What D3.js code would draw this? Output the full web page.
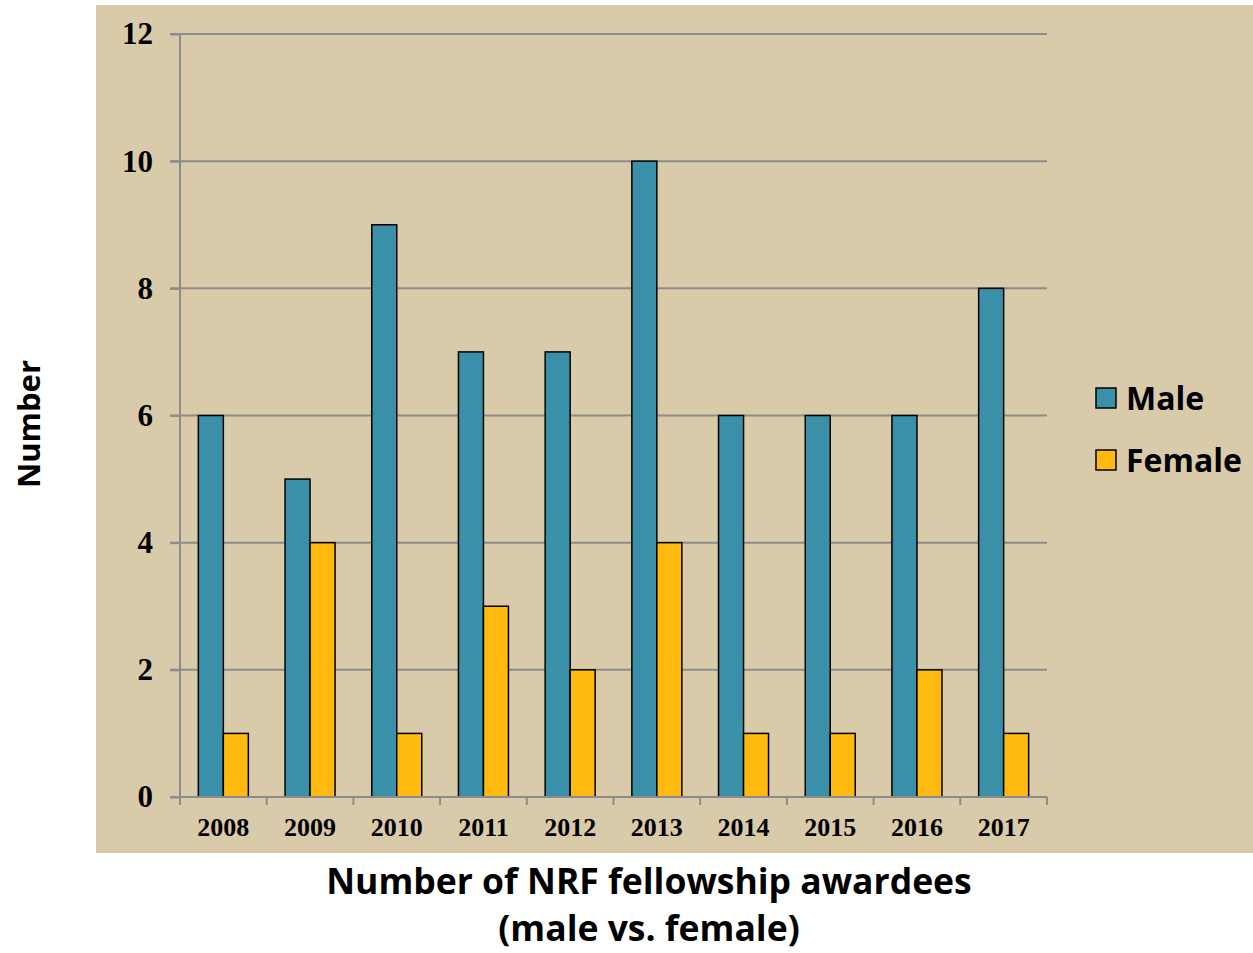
<!DOCTYPE html>
<html>
<head>
<meta charset="utf-8">
<script src="https://cdn.jsdelivr.net/npm/d3@7"></script>
<style>
  body { margin: 0; background: #fff; }
  svg { display: block; }
</style>
</head>
<body>
<svg id="chart" width="1253" height="953"></svg>
<script>
const years = ['2008', '2009', '2010', '2011', '2012', '2013', '2014', '2015', '2016', '2017'];
const male = [6, 5, 9, 7, 7, 10, 6, 6, 6, 8];
const female = [1, 4, 1, 3, 2, 4, 1, 1, 2, 1];
const seriesNames = ['Male', 'Female'];
const yTicks = [0, 2, 4, 6, 8, 10, 12];

const colors = { Male: '#3990A8', Female: '#FFB90F' };
const sansBold = "'Open Sans', 'Noto Sans', sans-serif";
const serif = "'Liberation Serif', 'DejaVu Serif', serif";

const svg = d3.select('#chart');

// tan panel
svg.append('rect')
  .attr('x', 96).attr('y', 5)
  .attr('width', 1157).attr('height', 848)
  .attr('fill', '#D9CAA9');

const margin = { left: 180, right: 1047, top: 34, bottom: 797 };

const x = d3.scaleBand()
  .domain(years)
  .range([margin.left, margin.right])
  .paddingInner(0).paddingOuter(0);

const y = d3.scaleLinear()
  .domain([0, 12])
  .range([margin.bottom, margin.top]);

const sub = d3.scaleBand()
  .domain(seriesNames)
  .range([0, 50]);

const data = years.map((yr, i) => ({ year: yr, Male: male[i], Female: female[i] }));

// gridlines
svg.append('g')
  .selectAll('line')
  .data(yTicks.filter(d => d > 0))
  .enter().append('line')
  .attr('x1', margin.left - 10)
  .attr('x2', margin.right)
  .attr('y1', d => y(d))
  .attr('y2', d => y(d))
  .attr('stroke', '#8C8C8C')
  .attr('stroke-width', 2);

// bars
const groups = svg.append('g')
  .selectAll('g')
  .data(data)
  .enter().append('g')
  .attr('transform', d => 'translate(' + (x(d.year) + x.bandwidth() / 2 - 25) + ',0)');

groups.selectAll('rect')
  .data(d => seriesNames.map(k => ({ key: k, value: d[k] })))
  .enter().append('rect')
  .attr('x', d => sub(d.key))
  .attr('width', sub.bandwidth())
  .attr('y', d => y(d.value))
  .attr('height', d => y(0) - y(d.value))
  .attr('fill', d => colors[d.key])
  .attr('stroke', '#000')
  .attr('stroke-width', 1.5);

// y axis
const yAxis = svg.append('g')
  .attr('transform', 'translate(' + margin.left + ',0)')
  .call(d3.axisLeft(y).tickValues(yTicks).tickSize(10).tickPadding(17));
yAxis.select('.domain').attr('stroke', '#8C8C8C').attr('stroke-width', 2)
  .attr('d', 'M0,' + margin.top + 'V' + margin.bottom);
yAxis.selectAll('.tick line').attr('stroke', '#8C8C8C').attr('stroke-width', 2);
yAxis.selectAll('.tick text')
  .attr('font-family', serif).attr('font-weight', 'bold')
  .attr('font-size', 31).attr('fill', '#000');

// x axis
const xAxis = svg.append('g')
  .attr('transform', 'translate(0,' + margin.bottom + ')')
  .call(d3.axisBottom(x).tickSize(0).tickPadding(21));
xAxis.select('.domain').attr('stroke', '#8C8C8C').attr('stroke-width', 2)
  .attr('d', 'M' + (margin.left - 10) + ',0H' + margin.right);
xAxis.selectAll('.tick text')
  .attr('font-family', serif).attr('font-weight', 'bold')
  .attr('font-size', 26).attr('fill', '#000');
// category boundary ticks
xAxis.append('g')
  .selectAll('line')
  .data(years.concat(['end']))
  .enter().append('line')
  .attr('x1', (d, i) => margin.left + i * x.bandwidth())
  .attr('x2', (d, i) => margin.left + i * x.bandwidth())
  .attr('y1', 0).attr('y2', 8)
  .attr('stroke', '#8C8C8C').attr('stroke-width', 2);

// legend
const legend = svg.append('g')
  .selectAll('g')
  .data(seriesNames)
  .enter().append('g')
  .attr('transform', (d, i) => 'translate(1096,' + (388 + i * 62) + ')');
legend.append('rect')
  .attr('width', 20).attr('height', 20)
  .attr('fill', d => colors[d])
  .attr('stroke', '#000').attr('stroke-width', 1.5);
legend.append('text')
  .attr('x', 30).attr('y', 22)
  .attr('font-family', sansBold).attr('font-weight', 'bold')
  .attr('font-size', 32).attr('fill', '#000')
  .text(d => d);

// y title
svg.append('text')
  .attr('transform', 'translate(40,424) rotate(-90)')
  .attr('text-anchor', 'middle')
  .attr('font-family', sansBold).attr('font-weight', 'bold')
  .attr('font-size', 31).attr('fill', '#000')
  .text('Number');

// x title
svg.append('text')
  .attr('x', 649).attr('y', 894)
  .attr('text-anchor', 'middle')
  .attr('font-family', sansBold).attr('font-weight', 'bold')
  .attr('font-size', 35.5).attr('fill', '#000')
  .text('Number of NRF fellowship awardees');
svg.append('text')
  .attr('x', 649).attr('y', 941)
  .attr('text-anchor', 'middle')
  .attr('font-family', sansBold).attr('font-weight', 'bold')
  .attr('font-size', 35.5).attr('fill', '#000')
  .text('(male vs. female)');
</script>
</body>
</html>
